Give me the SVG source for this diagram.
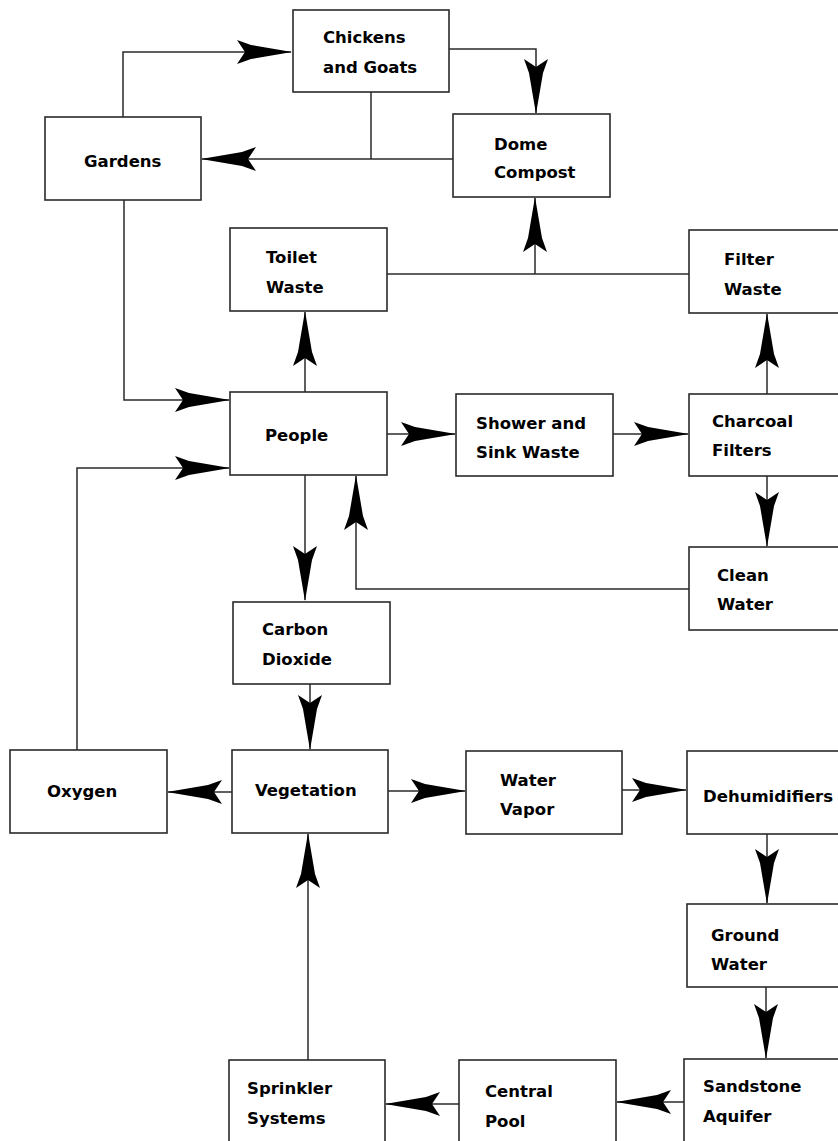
<svg xmlns="http://www.w3.org/2000/svg" width="838" height="1141" viewBox="0 0 838 1141">
<defs>
<style>
.box rect{fill:#fff;stroke:#2a2a2a;stroke-width:1.6}
.box text{font-family:"DejaVu Sans",sans-serif;font-weight:bold;font-size:16.5px;fill:#000}
#connectors path{fill:none;stroke:#2a2a2a;stroke-width:1.5}
.arr{marker-end:url(#ah)}
</style>
<marker id="ah" markerUnits="userSpaceOnUse" orient="auto" viewBox="-56 -14 58 28" markerWidth="58" markerHeight="28" refX="0" refY="0">
<path d="M1,0 L-40,-7 L-54,-12 L-46,0 L-54,12 L-40,7 Z" fill="#000" stroke="none"/>
</marker>
</defs>
<rect width="838" height="1141" fill="#fff"/>
<g id="connectors">
<path class="arr" d="M123,117 V52 H291"/>
<path class="arr" d="M449,49 H536 V113"/>
<path d="M371,92 V159"/>
<path class="arr" d="M453,159 H202"/>
<path d="M387,274 H689"/>
<path class="arr" d="M535,274 V198"/>
<path class="arr" d="M124,200 V400 H229"/>
<path class="arr" d="M305,392 V312"/>
<path class="arr" d="M77,750 V468 H229"/>
<path class="arr" d="M387,434 H455"/>
<path class="arr" d="M613,434 H688"/>
<path class="arr" d="M767,394 V314"/>
<path class="arr" d="M767,476 V546"/>
<path class="arr" d="M689,589 H356 V476"/>
<path class="arr" d="M305,475 V600"/>
<path class="arr" d="M310,684 V749"/>
<path class="arr" d="M232,792 H168"/>
<path class="arr" d="M388,791 H465"/>
<path class="arr" d="M622,790 H686"/>
<path class="arr" d="M767,834 V903"/>
<path class="arr" d="M766,987 V1058"/>
<path class="arr" d="M684,1102 H617"/>
<path class="arr" d="M459,1104 H386"/>
<path class="arr" d="M308,1060 V834"/>
</g>
<g id="chickens" class="box"><rect x="293" y="10" width="156" height="82"/><text x="323" y="43">Chickens</text><text x="323" y="73">and Goats</text></g>
<g id="gardens" class="box"><rect x="45" y="117" width="156" height="83"/><text x="84" y="167">Gardens</text></g>
<g id="dome-compost" class="box"><rect x="453" y="114" width="157" height="83"/><text x="494" y="150">Dome</text><text x="494" y="178">Compost</text></g>
<g id="toilet-waste" class="box"><rect x="230" y="228" width="157" height="83"/><text x="266" y="263">Toilet</text><text x="266" y="293">Waste</text></g>
<g id="filter-waste" class="box"><rect x="689" y="230" width="160" height="83"/><text x="724" y="265">Filter</text><text x="724" y="295">Waste</text></g>
<g id="people" class="box"><rect x="230" y="392" width="157" height="83"/><text x="265" y="441">People</text></g>
<g id="shower-sink" class="box"><rect x="456" y="394" width="157" height="82"/><text x="476" y="429">Shower and</text><text x="476" y="458">Sink Waste</text></g>
<g id="charcoal-filters" class="box"><rect x="689" y="394" width="160" height="82"/><text x="712" y="427">Charcoal</text><text x="712" y="456">Filters</text></g>
<g id="clean-water" class="box"><rect x="689" y="547" width="160" height="83"/><text x="717" y="581">Clean</text><text x="717" y="610">Water</text></g>
<g id="carbon-dioxide" class="box"><rect x="233" y="602" width="157" height="82"/><text x="262" y="635">Carbon</text><text x="262" y="665">Dioxide</text></g>
<g id="oxygen" class="box"><rect x="10" y="750" width="157" height="83"/><text x="47" y="797">Oxygen</text></g>
<g id="vegetation" class="box"><rect x="232" y="750" width="156" height="83"/><text x="255" y="796">Vegetation</text></g>
<g id="water-vapor" class="box"><rect x="466" y="751" width="156" height="83"/><text x="500" y="786">Water</text><text x="500" y="815">Vapor</text></g>
<g id="dehumidifiers" class="box"><rect x="687" y="751" width="160" height="83"/><text x="703" y="802">Dehumidifiers</text></g>
<g id="ground-water" class="box"><rect x="687" y="904" width="160" height="83"/><text x="711" y="941">Ground</text><text x="711" y="970">Water</text></g>
<g id="sandstone-aquifer" class="box"><rect x="684" y="1059" width="160" height="90"/><text x="703" y="1092">Sandstone</text><text x="703" y="1122">Aquifer</text></g>
<g id="central-pool" class="box"><rect x="459" y="1060" width="157" height="90"/><text x="485" y="1097">Central</text><text x="485" y="1127">Pool</text></g>
<g id="sprinkler-systems" class="box"><rect x="229" y="1060" width="156" height="90"/><text x="247" y="1094">Sprinkler</text><text x="247" y="1124">Systems</text></g>
</svg>
